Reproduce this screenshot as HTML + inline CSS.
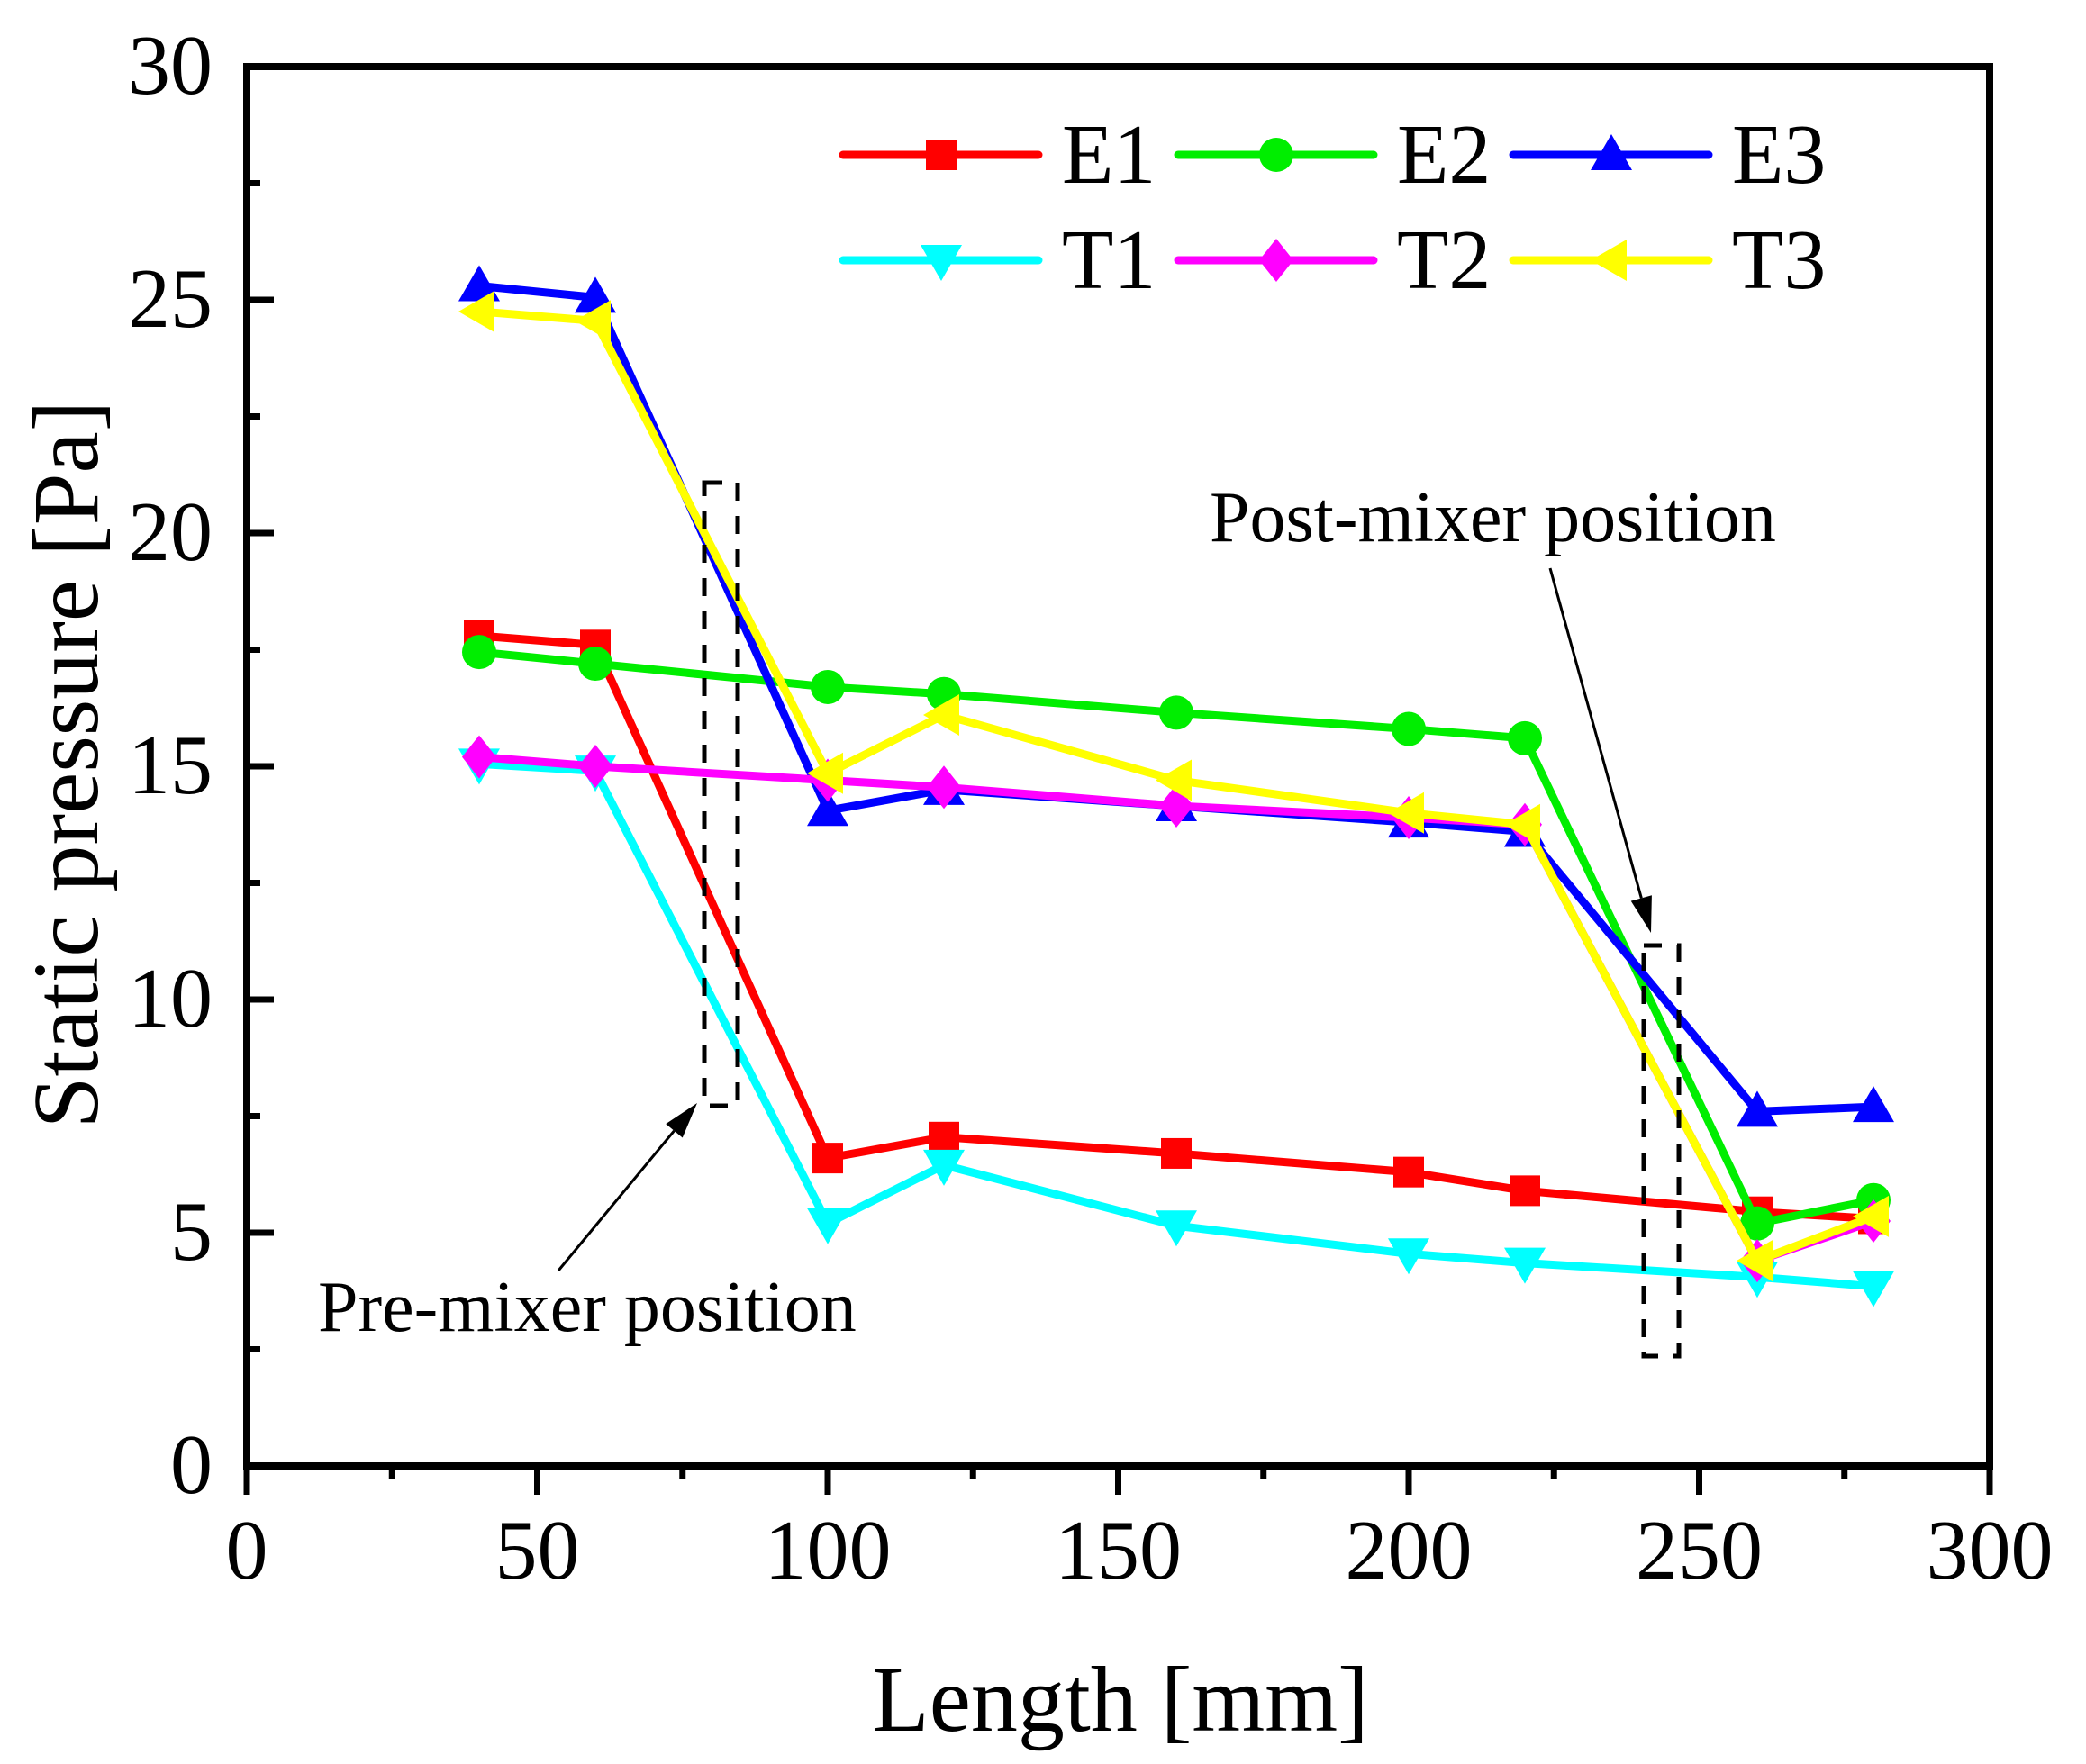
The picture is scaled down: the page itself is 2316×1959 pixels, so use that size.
<!DOCTYPE html>
<html><head><meta charset="utf-8">
<style>
html,body{margin:0;padding:0;background:#fff;}
svg{display:block;font-family:"Liberation Serif","Times New Roman",serif;}
</style></head>
<body>
<svg id="chart" width="2316" height="1959" viewBox="0 0 2316 1959" xmlns="http://www.w3.org/2000/svg">
<rect x="0" y="0" width="2316" height="1959" fill="#fff"/>
<g id="marks"></g>
<g id="axes"></g>
<g id="legend"></g>
<g id="annot"></g>
</svg>
<script>
const xValues = [40, 60, 100, 120, 160, 200, 220, 260, 280];
const e1Values = [17.8, 17.6, 6.6, 7.05, 6.7, 6.3, 5.9, 5.45, 5.3];
const e2Values = [17.45, 17.2, 16.7, 16.55, 16.15, 15.8, 15.6, 5.2, 5.7];
const e3Values = [25.3, 25.05, 14.05, 14.5, 14.15, 13.8, 13.6, 7.6, 7.7];
const t1Values = [15.05, 14.9, 5.2, 6.45, 5.15, 4.55, 4.35, 4.05, 3.85];
const t2Values = [15.2, 15.0, 14.7, 14.55, 14.15, 13.9, 13.75, 4.4, 5.25];
const t3Values = [24.75, 24.55, 14.85, 16.1, 14.7, 14.0, 13.75, 4.4, 5.35];
const seriesNames = ["E1", "E2", "E3", "T1", "T2", "T3"];
const xTickLabels = [0, 50, 100, 150, 200, 250, 300];
const yTickLabels = [0, 5, 10, 15, 20, 25, 30];

const NS = "http://www.w3.org/2000/svg";
const L = 274, R = 2209, T = 74, B = 1628;
const xMin = 0, xMax = 300, yMin = 0, yMax = 30;
function xs(v){ return L + (v - xMin) / (xMax - xMin) * (R - L); }
function ys(v){ return B - (v - yMin) / (yMax - yMin) * (B - T); }
function mk(tag, attrs, parent){
  const el = document.createElementNS(NS, tag);
  for (const k in attrs) el.setAttribute(k, attrs[k]);
  parent.appendChild(el);
  return el;
}
const colors = ["#ff0000", "#00ee00", "#0000ff", "#00ffff", "#ff00ff", "#ffff00"];
const shapes = ["square", "circle", "up", "down", "diamond", "left"];
const allSeries = [e1Values, e2Values, e3Values, t1Values, t2Values, t3Values];

function marker(shape, cx, cy, color, parent){
  const s = 19;
  let el;
  if (shape === "square") el = mk("rect", {x: cx - 17, y: cy - 17, width: 34, height: 34, fill: color}, parent);
  else if (shape === "circle") el = mk("circle", {cx: cx, cy: cy, r: 19, fill: color}, parent);
  else if (shape === "up") el = mk("polygon", {points: `${cx},${cy-23} ${cx+23},${cy+17} ${cx-23},${cy+17}`, fill: color}, parent);
  else if (shape === "down") el = mk("polygon", {points: `${cx},${cy+23} ${cx+23},${cy-17} ${cx-23},${cy-17}`, fill: color}, parent);
  else if (shape === "diamond") el = mk("polygon", {points: `${cx},${cy-24} ${cx+19},${cy} ${cx},${cy+24} ${cx-19},${cy}`, fill: color}, parent);
  else el = mk("polygon", {points: `${cx-23},${cy} ${cx+17},${cy-23} ${cx+17},${cy+23}`, fill: color}, parent);
  return el;
}

const marks = document.getElementById("marks");
allSeries.forEach((vals, si) => {
  const g = mk("g", {}, marks);
  
  
  const pts = vals.map((v, i) => xs(xValues[i]) + "," + ys(v)).join(" ");
  const line = mk("polyline", {points: pts, fill: "none", stroke: colors[si], "stroke-width": 9, "stroke-linejoin": "round"}, g);
  
  
  vals.forEach((v, i) => {
    const m = marker(shapes[si], xs(xValues[i]), ys(v), colors[si], g);
    
    
  });
});

const axes = document.getElementById("axes");
const frame = mk("rect", {x: L, y: T, width: R - L, height: B - T, fill: "none", stroke: "#000", "stroke-width": 8}, axes);


// x ticks (outward)
for (let v = 0; v <= 300; v += 25) {
  const major = v % 50 === 0;
  const t = mk("line", {x1: xs(v), x2: xs(v), y1: B, y2: B + (major ? 32 : 15), stroke: "#000", "stroke-width": 7}, axes);
  
  
}
xTickLabels.forEach(v => {
  const t = mk("text", {x: xs(v), y: 1753, "font-size": 94, "text-anchor": "middle"}, axes);
  t.textContent = v;
  
  
});
// y ticks (inward)
for (let v = 0; v <= 30; v += 2.5) {
  const major = v % 5 === 0;
  const t = mk("line", {x1: L, x2: L + (major ? 30 : 15), y1: ys(v), y2: ys(v), stroke: "#000", "stroke-width": 7}, axes);
  
  
}
yTickLabels.forEach(v => {
  const t = mk("text", {x: 236, y: ys(v) + 30, "font-size": 94, "text-anchor": "end"}, axes);
  t.textContent = v;
  
  
});
const xt = mk("text", {x: 1244, y: 1922, "font-size": 104, "text-anchor": "middle"}, axes);
xt.textContent = "Length [mm]";


const yt = mk("text", {x: 0, y: 0, "font-size": 104, "text-anchor": "middle", transform: "translate(108,849) rotate(-90)"}, axes);
yt.textContent = "Static pressure [Pa]";



// legend
const legend = document.getElementById("legend");
const legCols = [933, 1305, 1677];
const legRows = [172, 289];
seriesNames.forEach((name, si) => {
  const cx = legCols[si % 3], cy = legRows[Math.floor(si / 3)];
  const g = mk("g", {}, legend);
  
  
  mk("line", {x1: cx + 3, x2: cx + 220, y1: cy, y2: cy, stroke: colors[si], "stroke-width": 9, "stroke-linecap": "round"}, g);
  marker(shapes[si], cx + 112, cy, colors[si], g);
  const t = mk("text", {x: cx + 246, y: cy + 31, "font-size": 94}, g);
  t.textContent = name;
});

// annotations
const an = document.getElementById("annot");
const box1 = mk("rect", {x: 782, y: 536, width: 37, height: 692, fill: "none", stroke: "#000", "stroke-width": 5, "stroke-dasharray": "20 17"}, an);


const box2 = mk("rect", {x: 1825, y: 1050, width: 39, height: 456, fill: "none", stroke: "#000", "stroke-width": 5, "stroke-dasharray": "20 17"}, an);


function arrow(x1, y1, x2, y2, name){
  const g = mk("g", {}, an);
  
  
  const dx = x2 - x1, dy = y2 - y1, len = Math.hypot(dx, dy), ux = dx / len, uy = dy / len;
  const hl = 40, hw = 12;
  const bx = x2 - ux * hl, by = y2 - uy * hl;
  mk("line", {x1: x1, y1: y1, x2: bx, y2: by, stroke: "#000", "stroke-width": 3}, g);
  mk("polygon", {points: `${x2},${y2} ${bx - uy * hw},${by + ux * hw} ${bx + uy * hw},${by - ux * hw}`, fill: "#000"}, g);
}
arrow(620, 1411, 774, 1225, 'pre-mixer-arrow');
arrow(1721, 631, 1833, 1036, 'post-mixer-arrow');
const a1 = mk("text", {x: 353, y: 1478, "font-size": 80}, an);
a1.textContent = "Pre-mixer position";


const a2 = mk("text", {x: 1343, y: 601, "font-size": 80}, an);
a2.textContent = "Post-mixer position";


</script>
</body></html>
